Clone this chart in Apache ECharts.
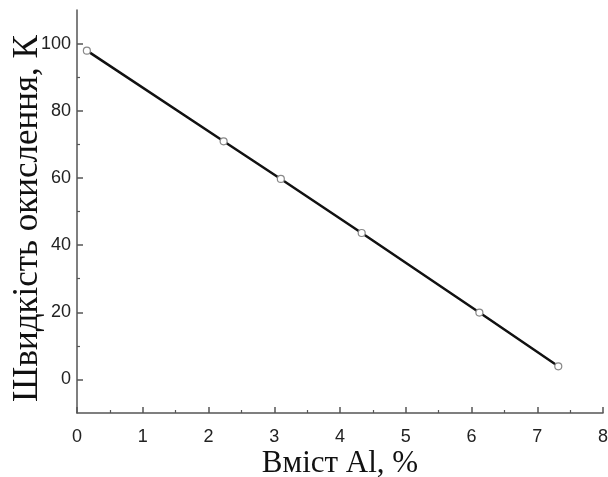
<!DOCTYPE html>
<html>
<head>
<meta charset="utf-8">
<script src="https://cdn.jsdelivr.net/npm/echarts@6/dist/echarts.min.js"></script>
<style>
    html, body { margin: 0; padding: 0; background: #fff; }
    #chart { width: 608px; height: 477px; }
</style>
</head>
<body>
<div id="chart"></div>
<script>
// вміст Al, % та швидкість окислення
const alContent = [0.15, 2.23, 3.1, 4.33, 6.12, 7.32]
const oxRate = [97.9, 70.9, 59.7, 43.6, 19.9, 3.9]
const yMajorTicks = [0, 20, 40, 60, 80, 100]
const yMinorTicks = [10, 30, 50, 70, 90]

const axisColor = '#555'
const labelStyle = {
    color: '#222',
    fontFamily: 'Liberation Sans',
    fontSize: 18
}

const points = alContent.map((x, i) => [x, oxRate[i]])

const chart = echarts.init(document.getElementById('chart'))
chart.setOption({
    animation: false,
    grid: { left: 77, right: 5, top: 10, bottom: 64, outerBoundsMode: 'none' },
    xAxis: {
        type: 'value',
        min: 0,
        max: 8,
        interval: 1,
        name: 'Вміст Al, %',
        nameLocation: 'middle',
        nameGap: 35,
        nameMoveOverlap: false,
        nameTextStyle: {
            fontFamily: 'Liberation Serif',
            fontSize: 31,
            color: '#111'
        },
        axisLine: { onZero: false, lineStyle: { color: axisColor, width: 1.5 } },
        axisTick: { inside: true, length: 6, lineStyle: { color: axisColor, width: 1.5 } },
        minorTick: { show: true, splitNumber: 2, length: 3, lineStyle: { color: axisColor, width: 1.2 } },
        axisLabel: Object.assign({ margin: 15 }, labelStyle),
        splitLine: { show: false }
    },
    yAxis: [
        {
            type: 'value',
            min: -10,
            max: 110,
            name: 'Швидкість окислення, К',
            nameLocation: 'middle',
            nameGap: 32,
            nameMoveOverlap: false,
            nameTextStyle: {
                fontFamily: 'Liberation Serif',
                fontSize: 35,
                color: '#111',
                padding: [0, 14, 0, 0]
            },
            axisLine: { show: true, onZero: false, lineStyle: { color: axisColor, width: 1.5 } },
            axisTick: {
                show: true,
                inside: true,
                length: 6,
                customValues: yMajorTicks,
                lineStyle: { color: axisColor, width: 1.5 }
            },
            axisLabel: Object.assign({ customValues: yMajorTicks, margin: 6 }, labelStyle),
            splitLine: { show: false }
        },
        {
            type: 'value',
            min: -10,
            max: 110,
            position: 'left',
            axisLine: { show: false, onZero: false },
            axisTick: {
                show: true,
                inside: true,
                length: 3,
                customValues: yMinorTicks,
                lineStyle: { color: axisColor, width: 1.2 }
            },
            axisLabel: { show: false },
            splitLine: { show: false }
        }
    ],
    series: [
        {
            type: 'line',
            data: points,
            lineStyle: { color: '#111', width: 2.5 },
            symbol: 'circle',
            symbolSize: 7,
            itemStyle: { color: '#fff', borderColor: '#888', borderWidth: 1.2 },
            z: 3
        }
    ]
})
</script>
</body>
</html>
